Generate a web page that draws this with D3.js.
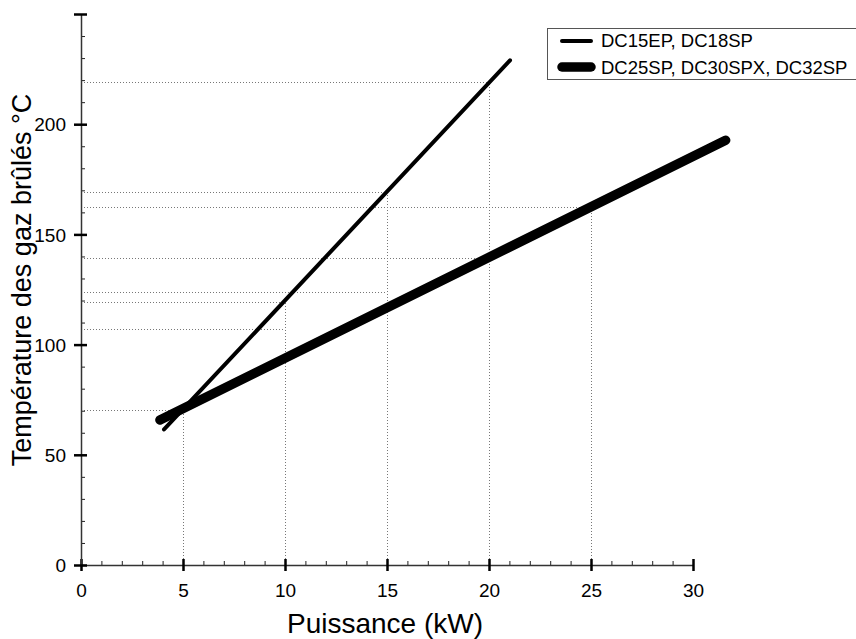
<!DOCTYPE html>
<html>
<head>
<meta charset="utf-8">
<script src="https://cdn.jsdelivr.net/npm/d3@7/dist/d3.min.js"></script>
<style>
  body { margin: 0; background: #fff; }
  svg { display: block; font-family: "Liberation Sans", Arial, sans-serif; }
</style>
</head>
<body>
<svg id="chart"></svg>
<script>
var seriesNames = ["DC15EP, DC18SP", "DC25SP, DC30SPX, DC32SP"];
var thinX = [4.07, 21.03];
var thinY = [61.5, 229];
var thickX = [3.87, 31.6];
var thickY = [65.8, 192.7];

// dotted reading lines: horizontal from the axis to refX, vertical from 0 to refY
var refX = [5, 10, 10, 15, 15, 20, 20, 25];
var refY = [70.3, 119.4, 106.9, 169.3, 123.7, 219, 139.5, 162.5];

var xMajor = [0, 5, 10, 15, 20, 25, 30];
var yMajor = [0, 50, 100, 150, 200, 250];
var yLabels = [0, 50, 100, 150, 200];

var width = 856;
var height = 639;

var svg = d3.select("#chart")
            .attr("width", width)
            .attr("height", height);

var x = d3.scaleLinear().domain([0, 30]).range([81, 693]);
var y = d3.scaleLinear().domain([0, 250]).range([565, 14]);

/* dotted guide lines */
var guides = svg.append("g")
                .attr("stroke", "#777")
                .attr("stroke-width", 1)
                .attr("stroke-dasharray", "1,2");

guides.selectAll("line.h")
      .data(refX)
      .enter()
      .append("line")
      .attr("class", "h")
      .attr("x1", x(0))
      .attr("x2", function(d) { return x(d); })
      .attr("y1", function(d, i) { return Math.round(y(refY[i])) + 0.5; })
      .attr("y2", function(d, i) { return Math.round(y(refY[i])) + 0.5; });

var vertTop = d3.rollups(refX.map(function(d, i) { return [d, refY[i]]; }),
                         function(v) { return d3.max(v, function(p) { return p[1]; }); },
                         function(p) { return p[0]; });

guides.selectAll("line.v")
      .data(vertTop)
      .enter()
      .append("line")
      .attr("class", "v")
      .attr("x1", function(d) { return Math.round(x(d[0])) + 0.5; })
      .attr("x2", function(d) { return Math.round(x(d[0])) + 0.5; })
      .attr("y1", y(0))
      .attr("y2", function(d) { return y(d[1]); });

/* data lines */
var line = d3.line()
             .x(function(d) { return x(d[0]); })
             .y(function(d) { return y(d[1]); });

var series = [
  { pts: thinX.map(function(d, i) { return [d, thinY[i]]; }), w: 4 },
  { pts: thickX.map(function(d, i) { return [d, thickY[i]]; }), w: 9.5 }
];

svg.selectAll("path.series")
   .data(series)
   .enter()
   .append("path")
   .attr("class", "series")
   .attr("d", function(d) { return line(d.pts); })
   .attr("fill", "none")
   .attr("stroke", "#000")
   .attr("stroke-width", function(d) { return d.w; })
   .attr("stroke-linecap", "round");

/* axes */
var xMinor = d3.range(0, 31).filter(function(d) { return d % 5 != 0; });
var yMinor = d3.range(0, 251, 10).filter(function(d) { return d % 50 != 0; });

var gx = svg.append("g").attr("transform", "translate(0," + y(0) + ")");
gx.call(d3.axisBottom(x).tickValues(xMinor).tickSizeInner(-4).tickSizeOuter(0).tickFormat(""));
gx.select(".domain").remove();
gx.selectAll("line").attr("stroke", "#222").attr("stroke-width", 1);

var gxM = svg.append("g").attr("transform", "translate(0," + y(0) + ")");
gxM.call(d3.axisBottom(x).tickValues(xMajor).tickSizeOuter(0));
gxM.select(".domain").attr("stroke", "#333").attr("stroke-width", 1.5);
gxM.selectAll(".tick line").attr("y1", -6).attr("y2", 6)
   .attr("stroke", "#000").attr("stroke-width", 2.5);
gxM.selectAll(".tick text")
   .attr("y", 32).attr("dy", 0)
   .attr("font-size", 19)
   .attr("font-family", "Liberation Sans, Arial, sans-serif")
   .attr("fill", "#000");

var gy = svg.append("g").attr("transform", "translate(" + x(0) + ",0)");
gy.call(d3.axisLeft(y).tickValues(yMinor).tickSizeInner(-4).tickSizeOuter(0).tickFormat(""));
gy.select(".domain").remove();
gy.selectAll("line").attr("stroke", "#222").attr("stroke-width", 1);

var gyM = svg.append("g").attr("transform", "translate(" + x(0) + ",0)");
gyM.call(d3.axisLeft(y).tickValues(yMajor).tickSizeOuter(0)
          .tickFormat(function(d) { return yLabels.indexOf(d) >= 0 ? d : ""; }));
gyM.select(".domain").attr("stroke", "#333").attr("stroke-width", 1.5);
gyM.selectAll(".tick line").attr("x1", -7).attr("x2", 6)
   .attr("stroke", "#000").attr("stroke-width", 2.5);
gyM.selectAll(".tick text")
   .attr("x", -15).attr("dy", "0.35em")
   .attr("font-size", 19)
   .attr("font-family", "Liberation Sans, Arial, sans-serif")
   .attr("fill", "#000");

/* axis titles */
svg.append("text")
   .attr("x", 385)
   .attr("y", 633)
   .attr("text-anchor", "middle")
   .attr("font-size", 28)
   .text("Puissance (kW)");

svg.append("text")
   .attr("transform", "translate(31,280) rotate(-90)")
   .attr("text-anchor", "middle")
   .attr("font-size", 27)
   .text("Température des gaz brûlés °C");

/* legend */
var legend = svg.append("g");

legend.append("rect")
      .attr("x", 547.5)
      .attr("y", 28.5)
      .attr("width", 330)
      .attr("height", 51)
      .attr("fill", "#fff")
      .attr("stroke", "#555")
      .attr("stroke-width", 1);

legend.selectAll("line")
      .data(series)
      .enter()
      .append("line")
      .attr("x1", 562)
      .attr("x2", 591)
      .attr("y1", function(d, i) { return 41 + i * 26; })
      .attr("y2", function(d, i) { return 41 + i * 26; })
      .attr("stroke", "#000")
      .attr("stroke-width", function(d) { return d.w; })
      .attr("stroke-linecap", "round");

legend.selectAll("text")
      .data(seriesNames)
      .enter()
      .append("text")
      .attr("x", 601)
      .attr("y", function(d, i) { return 47 + i * 27; })
      .attr("font-size", 18.5)
      .text(function(d) { return d; });
</script>
</body>
</html>
